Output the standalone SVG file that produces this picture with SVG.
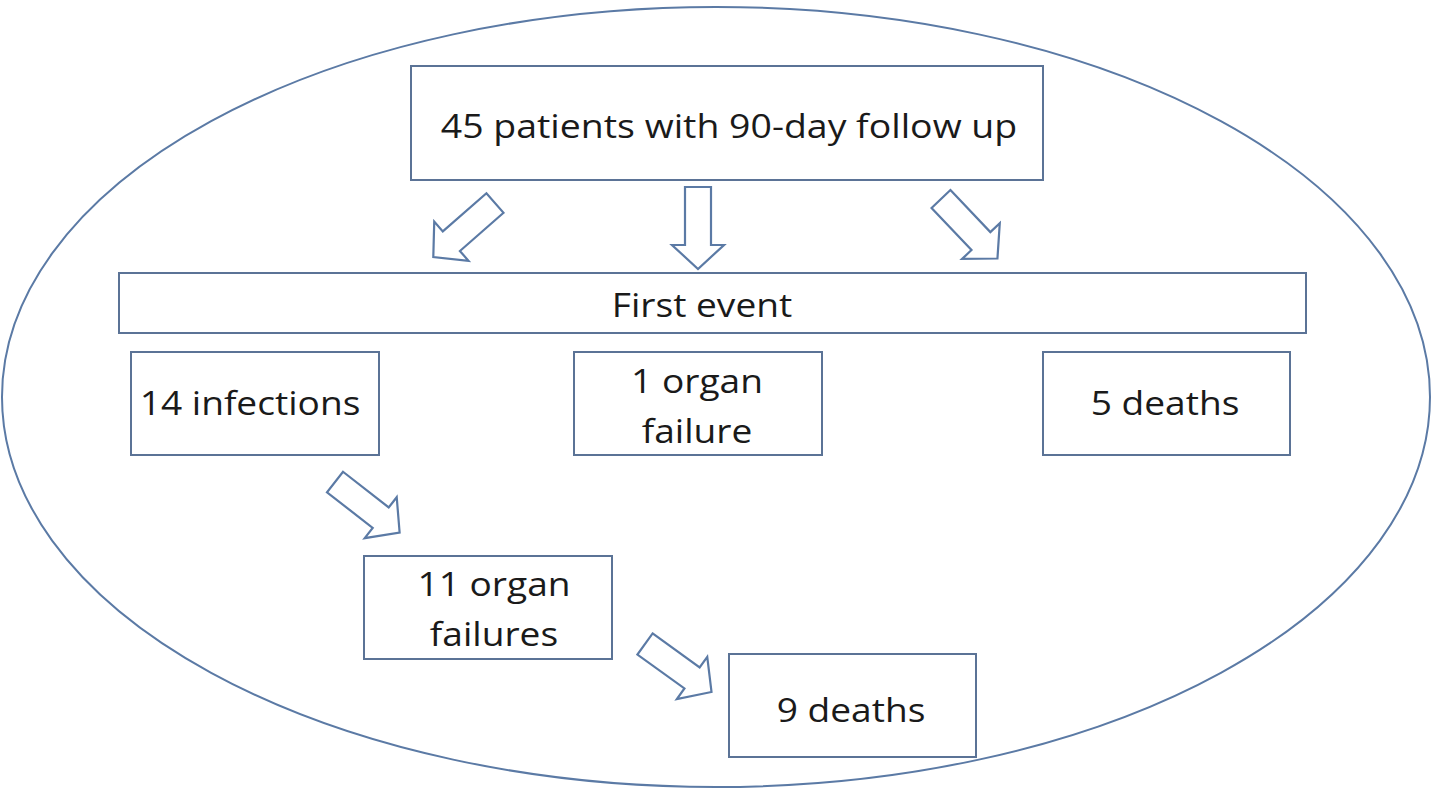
<svg xmlns="http://www.w3.org/2000/svg" width="1432" height="791" viewBox="0 0 1432 791">
<style>
.box{fill:#fff;stroke:#5b7396;stroke-width:2}
.arr{fill:#fff;stroke:#5b7aa5;stroke-width:2.2;stroke-linejoin:miter}
.t{font-family:"Open Sans","Liberation Sans",sans-serif;font-size:32px;fill:#1a1a1a;text-anchor:middle}
</style>
<defs>
<path id="blk" d="M0,-13 L58,-13 L58,-26 L82,0 L58,26 L58,13 L0,13 Z"/>
</defs>
<rect width="1432" height="791" fill="#fff"/>
<ellipse cx="716" cy="397" rx="714" ry="390" fill="none" stroke="#5b7aa5" stroke-width="2"/>
<g id="connectors">
<use href="#blk" class="arr" transform="translate(495,203) rotate(138.8)"/>
<use href="#blk" class="arr" transform="translate(698,187) rotate(90)"/>
<use href="#blk" class="arr" transform="translate(941,199) rotate(46.5)"/>
<use href="#blk" class="arr" transform="translate(335,482) rotate(38)"/>
<use href="#blk" class="arr" transform="translate(645,644) rotate(35.8)"/>
</g>
<g id="n-top"><rect class="box" x="411" y="66" width="632" height="114"/><text class="t" transform="translate(729,138) scale(1.17,1)">45 patients with 90-day follow up</text></g>
<g id="n-first"><rect class="box" x="119" y="273" width="1187" height="60"/><text class="t" transform="translate(702,317) scale(1.16,1)">First event</text></g>
<g id="n-inf"><rect class="box" x="131" y="352" width="248" height="103"/><text class="t" transform="translate(250,415) scale(1.16,1)">14 infections</text></g>
<g id="n-org1"><rect class="box" x="574" y="352" width="248" height="103"/><text class="t" transform="translate(697,393) scale(1.16,1)">1 organ</text><text class="t" transform="translate(697,443) scale(1.16,1)">failure</text></g>
<g id="n-d5"><rect class="box" x="1043" y="352" width="247" height="103"/><text class="t" transform="translate(1165,415) scale(1.16,1)">5 deaths</text></g>
<g id="n-org11"><rect class="box" x="364" y="556" width="248" height="103"/><text class="t" transform="translate(494,596) scale(1.16,1)">11 organ</text><text class="t" transform="translate(494,646) scale(1.16,1)">failures</text></g>
<g id="n-d9"><rect class="box" x="729" y="654" width="247" height="103"/><text class="t" transform="translate(851,722) scale(1.16,1)">9 deaths</text></g>
</svg>
